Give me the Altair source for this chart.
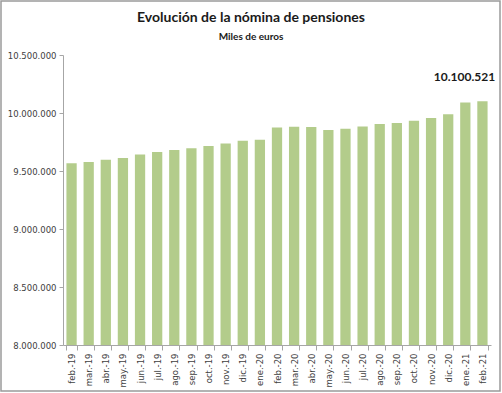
import altair as alt
import pandas as pd

# Monthly pension payroll, thousands of euros
months = ["feb.-19", "mar.-19", "abr.-19", "may.-19", "jun.-19", "jul.-19",
          "ago.-19", "sep.-19", "oct.-19", "nov.-19", "dic.-19", "ene.-20",
          "feb.-20", "mar.-20", "abr.-20", "may.-20", "jun.-20", "jul.-20",
          "ago.-20", "sep.-20", "oct.-20", "nov.-20", "dic.-20", "ene.-21",
          "feb.-21"]
payroll = [9566000, 9578000, 9597000, 9612000, 9643000, 9663000,
           9681000, 9697000, 9715000, 9737000, 9760000, 9769000,
           9875000, 9881000, 9879000, 9853000, 9864000, 9884000,
           9905000, 9914000, 9933000, 9956000, 9990000, 10090000,
           10100521]
y_ticks = [8000000, 8500000, 9000000, 9500000, 10000000, 10500000]
title_text = "Evolución de la nómina de pensiones"
subtitle_text = "Miles de euros"

df = pd.DataFrame({"mes": months, "nomina": payroll})

W, H = 428, 290
PAD = {"left": 63, "top": 55, "right": 11, "bottom": 48}
CENTER_X = 251 - PAD["left"]

x_enc = alt.X(
    "mes:N", sort=months, title=None,
    scale=alt.Scale(paddingInner=0.4, paddingOuter=0.2),
    axis=alt.Axis(labelAngle=-90, tickBand="extent", tickSize=5,
                  labelPadding=3, domainColor="#a6a6a6", tickColor="#a6a6a6",
                  labelFont="DejaVu Sans", labelFontSize=8.5,
                  labelColor="#404040"),
)
y_enc = alt.Y(
    "nomina:Q", title=None,
    scale=alt.Scale(domain=[8000000, 10500000], nice=False, zero=False),
    axis=alt.Axis(values=y_ticks, grid=False, tickSize=4, labelPadding=3,
                  domainColor="#a6a6a6", tickColor="#a6a6a6",
                  labelFont="DejaVu Sans", labelFontSize=8.5,
                  labelColor="#404040",
                  labelExpr="replace(format(datum.value, ',d'), /,/g, '.')"),
)

bars = alt.Chart(df).mark_bar(color="#b3cc8b", clip=True).encode(x=x_enc, y=y_enc)

last = alt.Chart(df.tail(1)).transform_calculate(
    etiqueta="replace(format(datum.nomina, ',d'), /,/g, '.')"
).mark_text(
    font="Lato", fontSize=12, fontWeight="bold", color="#1a1a1a",
    align="center", baseline="middle", dx=-18, dy=-24,
).encode(x=alt.X("mes:N", sort=months), y="nomina:Q", text="etiqueta:N")

titles = pd.DataFrame({"t": [title_text]})
title_mark = alt.Chart(titles).mark_text(
    font="Lato", fontSize=14, fontWeight="bold", color="#1a1a1a",
    align="center", baseline="middle",
).encode(x=alt.value(CENTER_X), y=alt.value(18 - PAD["top"]), text="t:N")

subtitles = pd.DataFrame({"t": [subtitle_text]})
subtitle_mark = alt.Chart(subtitles).mark_text(
    font="Lato", fontSize=10, fontWeight="bold", color="#1a1a1a",
    align="center", baseline="middle",
).encode(x=alt.value(CENTER_X), y=alt.value(37 - PAD["top"]), text="t:N")

# Frame around the whole chart area
frame = alt.Chart(titles).mark_rect(
    fill=None, stroke="#9a9a9a", strokeWidth=1.5
).encode(
    x=alt.value(-PAD["left"] + 1), x2=alt.value(W + PAD["right"] - 2),
    y=alt.value(-PAD["top"] + 1), y2=alt.value(H + PAD["bottom"] - 2),
)

chart = alt.layer(bars, last, title_mark, subtitle_mark, frame).properties(
    width=W, height=H,
    autosize=alt.AutoSizeParams(type="none"),
    padding=PAD,
).configure(background="white").configure_view(stroke=None)

chart.save("out.html", embed_options={"renderer": "svg", "actions": False})
